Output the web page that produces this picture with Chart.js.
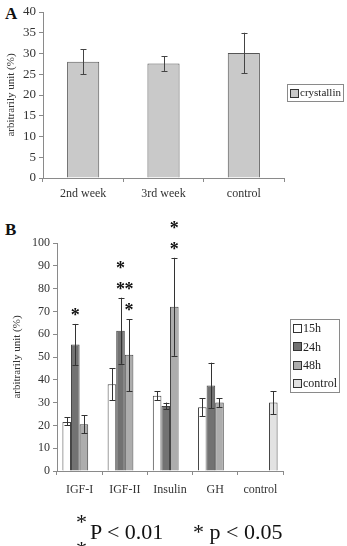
<!DOCTYPE html>
<html><head><meta charset="utf-8">
<script src="https://cdn.jsdelivr.net/npm/chart.js@4"></script>
<style>
body{margin:0;background:#fff;width:347px;height:546px;overflow:hidden;position:relative;font-family:"Liberation Serif","Times New Roman",serif;color:#222;}
canvas{position:absolute;left:0;}
#ca{top:0;}
#cb{top:200px;}
.lbl{position:absolute;font-weight:bold;font-size:17px;line-height:17px;color:#111;}
.sig{position:absolute;font-size:22px;line-height:22px;white-space:pre;color:#111;}
</style></head><body>
<div class="lbl" style="left:5px;top:5px">A</div>
<div class="lbl" style="left:5px;top:221px">B</div>
<canvas id="ca" width="347" height="205"></canvas>
<canvas id="cb" width="347" height="305"></canvas>
<div class="sig" style="left:76px;top:511px">*</div>
<div class="sig" style="left:76px;top:538px">*</div>
<div class="sig" style="left:90px;top:521px">P &lt; 0.01</div>
<div class="sig" style="left:193px;top:521px">* p &lt; 0.05</div>
<script>
// ---------- Data: panel A ----------
const catsA = ['2nd week', '3rd week', 'control'];
const crystallin = [28, 27.6, 30.1];
const crystallinLow = [25, 25.8, 25.2];
const crystallinHigh = [31, 29.4, 35];

// ---------- Data: panel B ----------
const catsB = ['IGF-I', 'IGF-II', 'Insulin', 'GH', 'control'];
const h15 = [21.5, 38, 33, 28, null];
const h15Low = [20, 31, 31, 24, null];
const h15High = [23.5, 45, 35, 32, null];
const h24 = [55.5, 61.5, 28.5, 37.5, null];
const h24Low = [46.5, 47, 27, 27.5, null];
const h24High = [64.5, 76, 30, 47.5, null];
const h48 = [20.5, 51, 72, 30, null];
const h48Low = [16.5, 35, 50.5, 28, null];
const h48High = [24.5, 66.5, 93.5, 32, null];
const ctrl = [null, null, null, null, 30];
const ctrlLow = [null, null, null, null, 25];
const ctrlHigh = [null, null, null, null, 35];
const stars15 = [0, 0, 0, 0, 0];
const stars24 = [1, 2, 0, 0, 0];
const stars48 = [0, 2, 2, 0, 0];
const starsCtrl = [0, 0, 0, 0, 0];

const SERIF = "'Liberation Serif', serif";
const AXIS = '#8a8a8a';

const errorBars = {
  id: 'errorBars',
  afterDatasetsDraw(chart, args, opts) {
    const ctx = chart.ctx, y = chart.scales.y;
    ctx.save();
    ctx.strokeStyle = opts.color || '#333';
    ctx.lineWidth = 1;
    chart.data.datasets.forEach((ds, i) => {
      const meta = chart.getDatasetMeta(i);
      meta.data.forEach((bar, j) => {
        if (ds.data[j] == null || !ds.errLow) return;
        const x = Math.round(bar.x) + 0.5;
        const y1 = y.getPixelForValue(ds.errLow[j]);
        const y2 = y.getPixelForValue(ds.errHigh[j]);
        const c = opts.cap || 3;
        ctx.beginPath();
        ctx.moveTo(x, y1); ctx.lineTo(x, y2);
        ctx.moveTo(x - c, Math.round(y1) + 0.5); ctx.lineTo(x + c, Math.round(y1) + 0.5);
        ctx.moveTo(x - c, Math.round(y2) + 0.5); ctx.lineTo(x + c, Math.round(y2) + 0.5);
        ctx.stroke();
        if (ds.stars && ds.stars[j]) {
          ctx.fillStyle = '#111';
          ctx.font = 'bold 18px ' + SERIF;
          ctx.textAlign = 'center';
          ctx.textBaseline = 'alphabetic';
          for (let k = 0; k < ds.stars[j]; k++) {
            const cy = y2 - 13 - k * 21;
            ctx.fillText('*', bar.x, cy + 10);
          }
        }
      });
    });
    ctx.restore();
  }
};

const boxLegend = {
  id: 'boxLegend',
  afterDraw(chart, args, opts) {
    const ctx = chart.ctx;
    ctx.save();
    ctx.strokeStyle = AXIS;
    ctx.lineWidth = 1;
    ctx.strokeRect(opts.x + 0.5, opts.y + 0.5, opts.w, opts.h);
    ctx.font = opts.fontSize + 'px ' + SERIF;
    ctx.textBaseline = 'middle';
    ctx.textAlign = 'left';
    chart.data.datasets.forEach((ds, i) => {
      const cy = opts.y + opts.pad + i * opts.step + opts.step / 2;
      ctx.fillStyle = ds.backgroundColor;
      ctx.fillRect(opts.x + 3.5, Math.round(cy - 4) + 0.5, 8, 8);
      ctx.strokeStyle = '#333';
      ctx.strokeRect(opts.x + 3.5, Math.round(cy - 4) + 0.5, 8, 8);
      ctx.fillStyle = '#222';
      ctx.fillText(ds.label, opts.x + 13, cy + 1);
    });
    ctx.restore();
  }
};

function axisCfg(extra) {
  return Object.assign({
    border: { color: AXIS, width: 1 },
    grid: { display: true, drawOnChartArea: false, drawTicks: true, tickLength: 4, color: AXIS },
  }, extra);
}

function draw() {
new Chart(document.getElementById('ca'), {
  type: 'bar',
  data: {
    labels: catsA,
    datasets: [{
      label: 'crystallin', data: crystallin, errLow: crystallinLow, errHigh: crystallinHigh,
      backgroundColor: '#c9c9c9', borderColor: '#555', borderWidth: 1,
      barPercentage: 0.5, categoryPercentage: 0.8
    }]
  },
  options: {
    responsive: false, animation: false,
    layout: { padding: { top: 12, right: 63, left: 0, bottom: 0 } },
    plugins: {
      legend: { display: false }, tooltip: { enabled: false },
      errorBars: { cap: 3, color: '#444' },
      boxLegend: { x: 287, y: 84, w: 56, h: 17, pad: 0, step: 17, fontSize: 11 }
    },
    scales: {
      x: axisCfg({
        grid: { display: true, drawOnChartArea: false, drawTicks: true, tickLength: 4, color: AXIS, offset: true },
        ticks: { font: { family: SERIF, size: 12 }, color: '#333', padding: 5 },
        afterFit: s => { s.height = 27; }
      }),
      y: axisCfg({
        min: 0, max: 40,
        ticks: { stepSize: 5, font: { family: SERIF, size: 13 }, color: '#333', padding: 3 },
        title: { display: true, text: 'arbitrarily unit (%)', font: { family: SERIF, size: 11 }, color: '#333', padding: { top: 5, bottom: 0 } },
        afterFit: s => { s.width = 43; }
      })
    }
  },
  plugins: [errorBars, boxLegend]
});

new Chart(document.getElementById('cb'), {
  type: 'bar',
  data: {
    labels: catsB,
    datasets: [
      { label: '15h', data: h15, errLow: h15Low, errHigh: h15High, stars: stars15, backgroundColor: '#ffffff' },
      { label: '24h', data: h24, errLow: h24Low, errHigh: h24High, stars: stars24, backgroundColor: '#727272' },
      { label: '48h', data: h48, errLow: h48Low, errHigh: h48High, stars: stars48, backgroundColor: '#adadad' },
      { label: 'control', data: ctrl, errLow: ctrlLow, errHigh: ctrlHigh, stars: starsCtrl, backgroundColor: '#e2e2e2' }
    ].map(d => Object.assign(d, { borderColor: '#444', borderWidth: 1, barPercentage: 1, categoryPercentage: 0.76 }))
  },
  options: {
    responsive: false, animation: false,
    layout: { padding: { top: 43, right: 64, left: 0, bottom: 0 } },
    plugins: {
      legend: { display: false }, tooltip: { enabled: false },
      errorBars: { cap: 3, color: '#333' },
      boxLegend: { x: 290, y: 119, w: 49, h: 73, pad: 0, step: 18.25, fontSize: 12 }
    },
    scales: {
      x: axisCfg({
        grid: { display: true, drawOnChartArea: false, drawTicks: true, tickLength: 4, color: AXIS, offset: true },
        ticks: { font: { family: SERIF, size: 12 }, color: '#333', padding: 8 },
        afterFit: s => { s.height = 34; }
      }),
      y: axisCfg({
        min: 0, max: 100,
        ticks: { stepSize: 10, font: { family: SERIF, size: 12 }, color: '#333', padding: 3 },
        title: { display: true, text: 'arbitrarily unit (%)', font: { family: SERIF, size: 11 }, color: '#333', padding: { top: 11, bottom: 0 } },
        afterFit: s => { s.width = 57; }
      })
    }
  },
  plugins: [errorBars, boxLegend]
});
}
Promise.all([
  document.fonts.load("12px 'Liberation Serif'"),
  document.fonts.load("bold 18px 'Liberation Serif'")
]).then(draw, draw);
</script>
</body></html>
